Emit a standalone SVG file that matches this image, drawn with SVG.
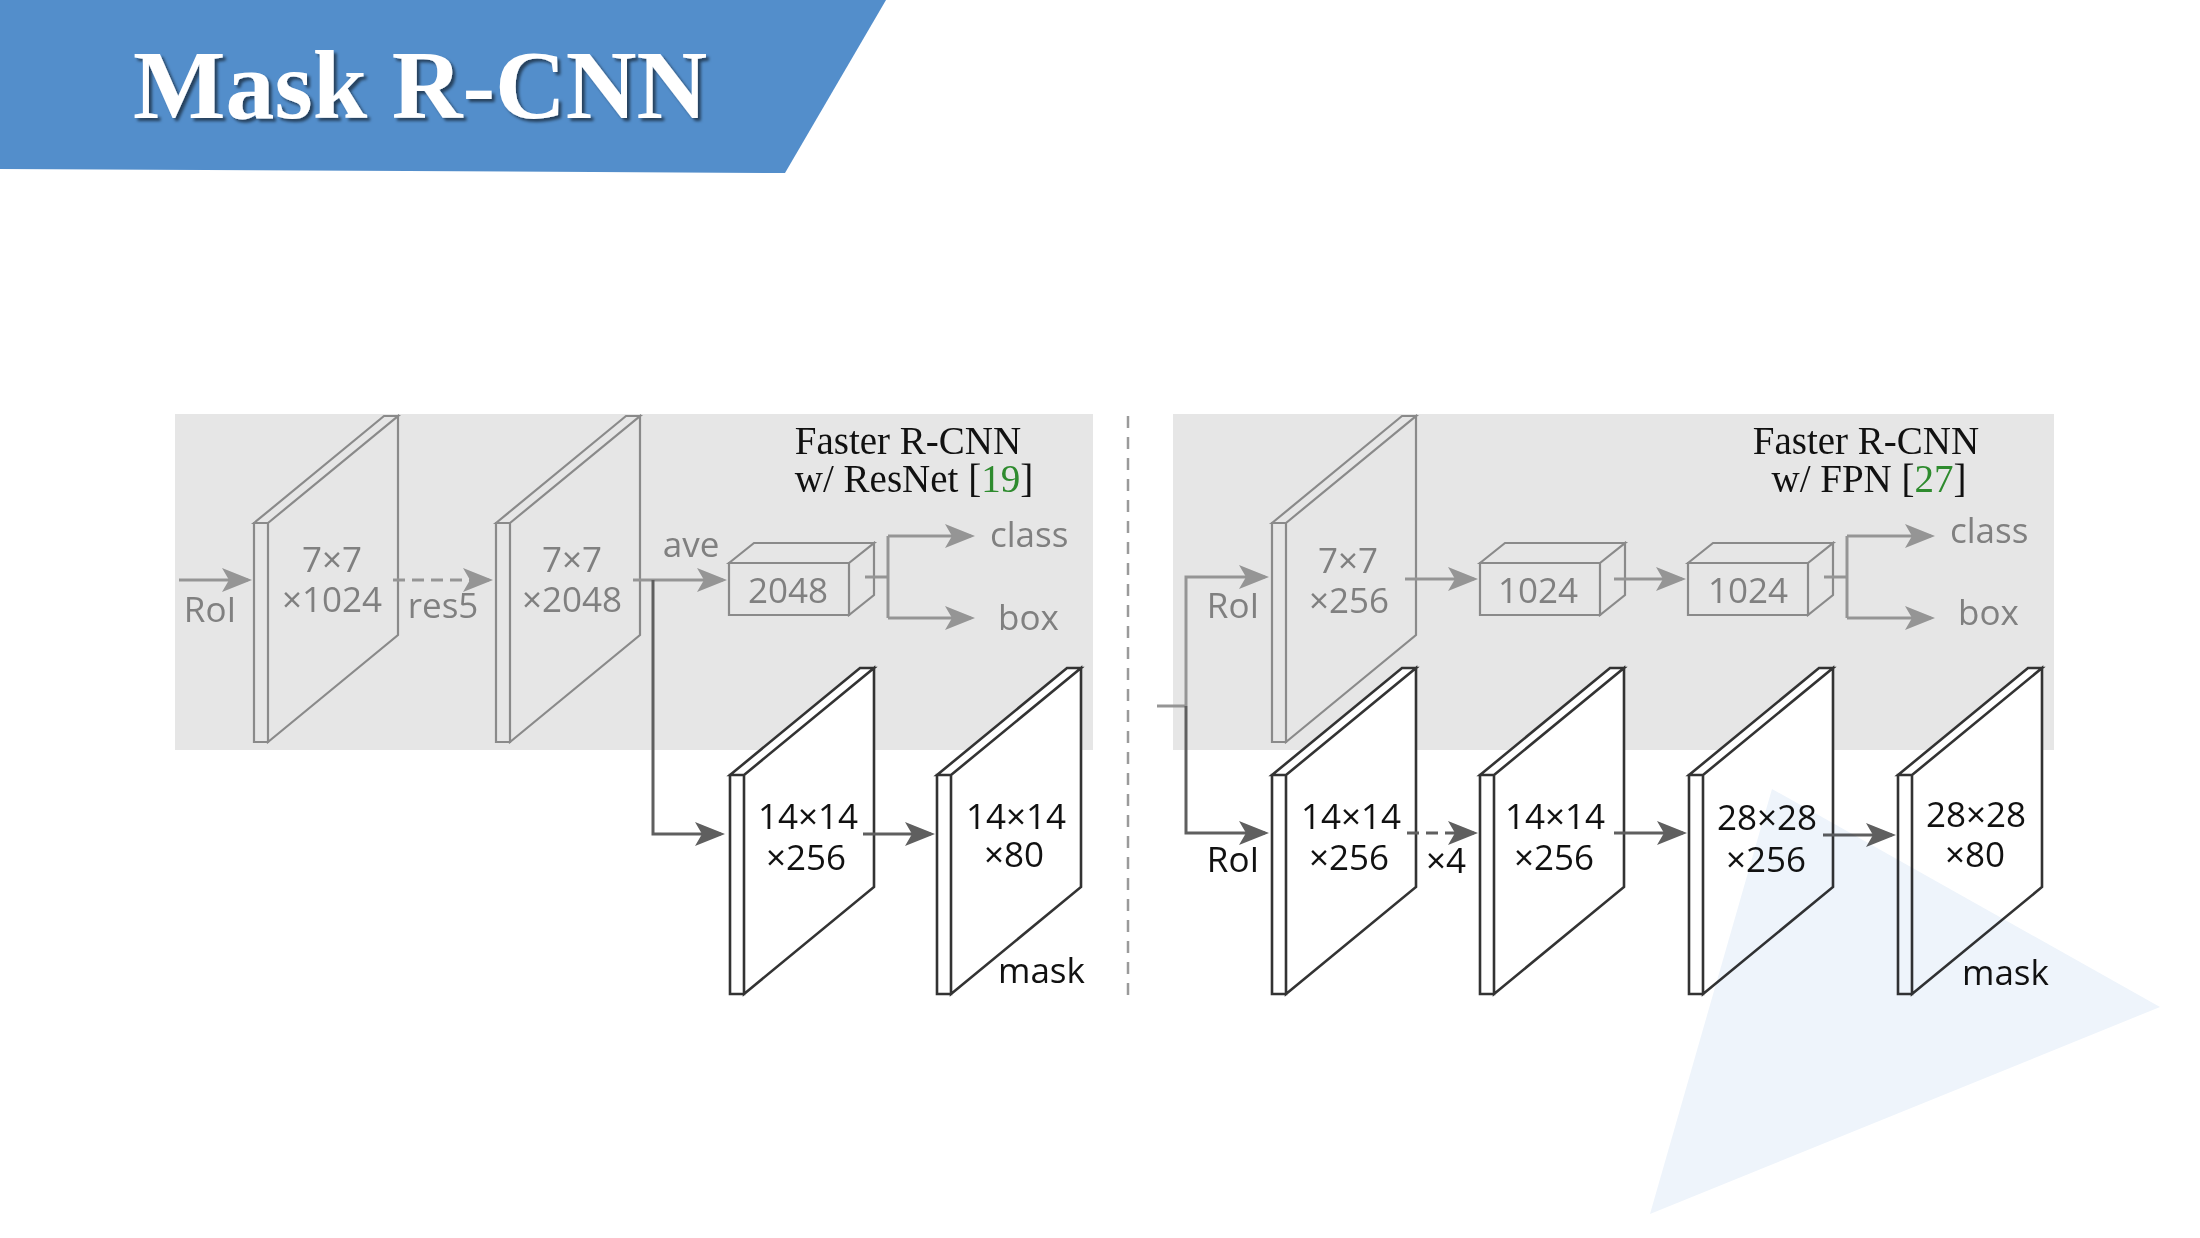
<svg xmlns="http://www.w3.org/2000/svg" xmlns:xlink="http://www.w3.org/1999/xlink" width="2200" height="1238" viewBox="0 0 2200 1238">
<style>
.panel{fill:#e6e6e6}
.sg{fill:#e6e6e6;stroke:#8a8a8a;stroke-width:2.2;stroke-linejoin:miter}
.sw{fill:#ffffff;stroke:#333333;stroke-width:2.6;stroke-linejoin:miter}
.bx{fill:none;stroke:#8a8a8a;stroke-width:2.2}
.cg{fill:none;stroke:#959595;stroke-width:3}
.cd{fill:none;stroke:#5f5f5f;stroke-width:3}
.ag{marker-end:url(#ahg)}
.ad{marker-end:url(#ahd)}
.dash{stroke-dasharray:12 7}
.tg{font-family:'Open Sans','Noto Sans',sans-serif;font-size:35px;fill:#808080}
.tb{font-family:'Open Sans','Noto Sans',sans-serif;font-size:35px;fill:#111111}
.m{text-anchor:middle}
.ser{font-family:'Liberation Serif','Times New Roman',serif;font-size:39px;fill:#111111;text-anchor:middle}
.cite{fill:#2e8b2e}
</style>
<defs>
<marker id="ahg" markerUnits="userSpaceOnUse" markerWidth="32" markerHeight="26" refX="26" refY="12" orient="auto"><path d="M0,0 L30,12 L0,24 L7,12 Z" fill="#959595"/></marker>
<marker id="ahd" markerUnits="userSpaceOnUse" markerWidth="32" markerHeight="26" refX="26" refY="12" orient="auto"><path d="M0,0 L30,12 L0,24 L7,12 Z" fill="#5f5f5f"/></marker>
<path id="slab" d="M0,0 H14 V219 H0 Z M0,0 L130,-107 H144 L14,0 Z M14,0 L144,-107 V112 L14,219 Z"/>
<path id="box" d="M0,0 H120 V52 H0 Z M0,0 L25,-20 H145 L120,0 Z M120,0 L145,-20 V32 L120,52 Z"/>
<filter id="sh" x="-5%" y="-20%" width="110%" height="140%"><feDropShadow dx="3" dy="3" stdDeviation="1.5" flood-color="#000000" flood-opacity="0.55"/></filter>
</defs>

<g id="banner">
<polygon points="0,0 886,0 785,173 0,169" fill="#538ecb"/>
<text x="133" y="118" font-family="'Liberation Serif','Times New Roman',serif" font-weight="bold" font-size="98" fill="#ffffff" filter="url(#sh)">Mask R-CNN</text>
</g>

<g id="panels">
<rect class="panel" x="175" y="414" width="918" height="336"/>
<rect class="panel" x="1173" y="414" width="881" height="336"/>
<line x1="1128" y1="416" x2="1128" y2="1000" stroke="#9a9a9a" stroke-width="2.5" stroke-dasharray="12 9"/>
</g>

<g id="n-slab1"><use xlink:href="#slab" x="254" y="523" class="sg"/></g>
<g id="n-slab2"><use xlink:href="#slab" x="496" y="523" class="sg"/></g>
<g id="n-box2048"><use xlink:href="#box" x="729" y="563" class="bx"/></g>
<g id="n-slabA"><use xlink:href="#slab" x="730" y="775" class="sw"/></g>
<g id="n-slabB"><use xlink:href="#slab" x="937" y="775" class="sw"/></g>

<g id="n-slabC"><use xlink:href="#slab" x="1272" y="523" class="sg"/></g>
<g id="n-box1024a"><use xlink:href="#box" x="1480" y="563" class="bx"/></g>
<g id="n-box1024b"><use xlink:href="#box" x="1688" y="563" class="bx"/></g>
<g id="n-slabD"><use xlink:href="#slab" x="1272" y="775" class="sw"/></g>
<g id="n-slabE"><use xlink:href="#slab" x="1480" y="775" class="sw"/></g>
<g id="n-slabF"><use xlink:href="#slab" x="1689" y="775" class="sw"/></g>
<g id="n-slabG"><use xlink:href="#slab" x="1898" y="775" class="sw"/></g>

<g id="connectors">
<path class="cg ag" d="M179,580 H248"/>
<path class="cg ag dash" d="M393,580 H489"/>
<path class="cg ag" d="M633,580 H723"/>
<path class="cd ad" d="M653,580 V834 H721"/>
<path class="cg" d="M865,577 H888 M888,536 V618"/>
<path class="cg ag" d="M888,536 H971"/>
<path class="cg ag" d="M888,618 H971"/>
<path class="cd ad" d="M863,834 H931"/>

<path class="cg" d="M1157,706 H1186"/>
<path class="cg ag" d="M1186,706 V577 H1265"/>
<path class="cd ad" d="M1186,706 V833 H1265"/>
<path class="cg ag" d="M1405,579 H1474"/>
<path class="cg ag" d="M1614,579 H1682"/>
<path class="cg" d="M1824,577 H1847 M1847,536 V618"/>
<path class="cg ag" d="M1847,536 H1931"/>
<path class="cg ag" d="M1847,618 H1931"/>
<path class="cd ad dash" d="M1407,833 H1474"/>
<path class="cd ad" d="M1614,833 H1683"/>
<path class="cd ad" d="M1823,835 H1892"/>
</g>

<g id="decor">
<polygon points="1772,789 2160,1007 1650,1214" fill="#eef4fb" style="mix-blend-mode:multiply"/>
</g>

<g id="labels">
<text class="ser" x="908" y="454">Faster R-CNN</text>
<text class="ser" x="914" y="492">w/ ResNet [<tspan class="cite">19</tspan>]</text>
<text class="ser" x="1866" y="454">Faster R-CNN</text>
<text class="ser" x="1869" y="492">w/ FPN [<tspan class="cite">27</tspan>]</text>

<text class="tg m" x="210" y="622">RoI</text>
<text class="tg m" x="332" y="572">7×7</text>
<text class="tg m" x="332" y="612">×1024</text>
<text class="tg m" x="443" y="618">res5</text>
<text class="tg m" x="572" y="572">7×7</text>
<text class="tg m" x="572" y="612">×2048</text>
<text class="tg m" x="691" y="557">ave</text>
<text class="tg m" x="788" y="603">2048</text>
<text class="tg" x="990" y="547">class</text>
<text class="tg" x="998" y="630">box</text>

<text class="tb m" x="808" y="829">14×14</text>
<text class="tb m" x="806" y="870">×256</text>
<text class="tb m" x="1016" y="829">14×14</text>
<text class="tb m" x="1014" y="867">×80</text>
<text class="tb" x="998" y="983">mask</text>

<text class="tg m" x="1233" y="618">RoI</text>
<text class="tg m" x="1348" y="573">7×7</text>
<text class="tg m" x="1349" y="613">×256</text>
<text class="tg m" x="1538" y="603">1024</text>
<text class="tg m" x="1748" y="603">1024</text>
<text class="tg" x="1950" y="543">class</text>
<text class="tg" x="1958" y="625">box</text>

<text class="tb m" x="1233" y="872">RoI</text>
<text class="tb m" x="1351" y="829">14×14</text>
<text class="tb m" x="1349" y="870">×256</text>
<text class="tb m" x="1446" y="873">×4</text>
<text class="tb m" x="1555" y="829">14×14</text>
<text class="tb m" x="1554" y="870">×256</text>
<text class="tb m" x="1767" y="830">28×28</text>
<text class="tb m" x="1766" y="872">×256</text>
<text class="tb m" x="1976" y="827">28×28</text>
<text class="tb m" x="1975" y="867">×80</text>
<text class="tb" x="1962" y="985">mask</text>
</g>
</svg>
